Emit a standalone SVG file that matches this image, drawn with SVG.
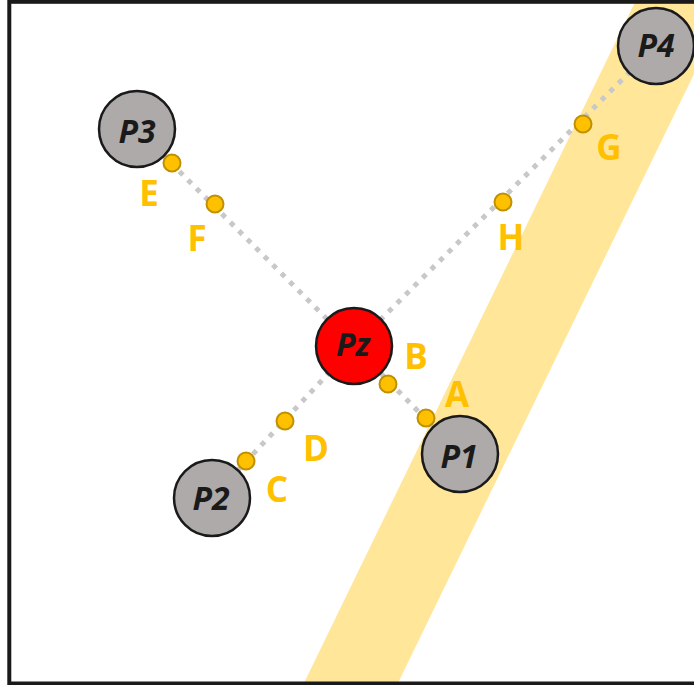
<svg xmlns="http://www.w3.org/2000/svg" width="694" height="685" viewBox="0 0 694 685">
  <style>
    .node { stroke: #1a1a1a; stroke-width: 2.5; }
    .gray { fill: #AEAAAA; }
    .red { fill: #FF0000; }
    .nlabel { font-family: "Open Sans", "Liberation Sans", sans-serif; font-weight: 700; font-style: italic; font-size: 32px; fill: #1a1a1a; text-anchor: middle; }
    .pt { fill: #FFC000; stroke: #BF9000; stroke-width: 2; }
    .plabel { font-family: "Open Sans", "Liberation Sans", sans-serif; font-weight: 700; font-size: 35px; fill: #FFC000; text-anchor: middle; }
    .link { stroke: #C8C8C8; stroke-width: 5; stroke-dasharray: 5 7; fill: none; }
  </style>
  <rect x="0" y="0" width="694" height="685" fill="#ffffff"/>
  <polygon id="band" points="636,0 730,0 397,685 303,685" fill="#FFE699"/>
  <rect x="9.3" y="1.8" width="720" height="681.7" fill="none" stroke="#1a1a1a" stroke-width="4"/>
  <g id="connectors">
    <line class="link" x1="137" y1="129" x2="354" y2="346"/>
    <line class="link" x1="656" y1="46" x2="354" y2="346"/>
    <line class="link" x1="212" y1="498" x2="354" y2="346"/>
    <line class="link" x1="460" y1="454" x2="354" y2="346"/>
  </g>
  <g id="P3"><circle class="node gray" cx="137" cy="129" r="38"/><text class="nlabel" x="137" y="143">P3</text></g>
  <g id="P4"><circle class="node gray" cx="656" cy="46" r="38"/><text class="nlabel" x="656" y="57">P4</text></g>
  <g id="Pz"><circle class="node red" cx="354" cy="346" r="38"/><text class="nlabel" x="353" y="356">Pz</text></g>
  <g id="P2"><circle class="node gray" cx="212" cy="498" r="38"/><text class="nlabel" x="211" y="510">P2</text></g>
  <g id="P1"><circle class="node gray" cx="460" cy="454" r="38"/><text class="nlabel" x="459" y="468">P1</text></g>
  <g id="E"><circle class="pt" cx="172" cy="163" r="8.5"/><text class="plabel" x="149" y="206">E</text></g>
  <g id="F"><circle class="pt" cx="215" cy="204" r="8.5"/><text class="plabel" x="197" y="251">F</text></g>
  <g id="G"><circle class="pt" cx="583" cy="124" r="8.5"/><text class="plabel" x="609" y="160">G</text></g>
  <g id="H"><circle class="pt" cx="503" cy="202" r="8.5"/><text class="plabel" x="511" y="250">H</text></g>
  <g id="B"><circle class="pt" cx="388" cy="384" r="8.5"/><text class="plabel" x="416" y="369">B</text></g>
  <g id="A"><circle class="pt" cx="426" cy="418" r="8.5"/><text class="plabel" x="457" y="407">A</text></g>
  <g id="D"><circle class="pt" cx="285" cy="421" r="8.5"/><text class="plabel" x="316" y="461">D</text></g>
  <g id="C"><circle class="pt" cx="246" cy="461" r="8.5"/><text class="plabel" x="277" y="502">C</text></g>
</svg>
